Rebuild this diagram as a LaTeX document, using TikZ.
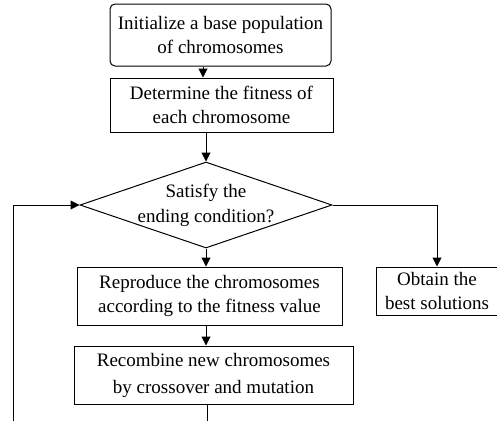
\documentclass[tikz,border=0pt]{standalone}
\usepackage{fontspec}
\setmainfont{Liberation Serif}
\usetikzlibrary{shapes.geometric,arrows.meta}
\begin{document}
\begin{tikzpicture}[x=1pt,y=-1pt,
  txt/.style={font=\fontsize{19}{24}\selectfont},
  box/.style={draw, line width=1pt, rectangle, inner sep=0pt, align=center, txt},
  arr/.style={line width=1pt, -{Triangle[length=9pt,width=9pt]}},
  ln/.style={line width=1pt}]
\useasboundingbox (0,0) rectangle (497,421);
\node[box, rounded corners=5pt, minimum width=221pt, minimum height=62pt] (init) at (220.5,35) {Initialize a base population\\of chromosomes};
\node[box, minimum width=223pt, minimum height=54pt] (fit) at (221.5,105) {Determine the fitness of\\each chromosome};
\node[draw, line width=1pt, diamond, inner sep=0pt, shape aspect=2.93, minimum width=252pt, minimum height=86pt] (cond) at (206,205) {};
\node[align=center, font=\fontsize{19}{25}\selectfont] (condt) at (cond) {Satisfy the\\ending condition?};
\node[box, minimum width=265pt, minimum height=58pt] (repr) at (209.5,296) {Reproduce the chromosomes\\according to the fitness value};
\node[box, minimum width=279pt, minimum height=58pt, font=\fontsize{19}{27}\selectfont] (recomb) at (213.5,375) {Recombine new chromosomes\\by crossover and mutation};
\node[box, minimum width=122pt, minimum height=48pt] (best) at (437,291) {Obtain the\\best solutions};
\coordinate (bot) at (207,421);
\coordinate (botl) at (13,421);
\coordinate (lcorner) at (13,205);
\draw[arr] (init.south -| 203,0) -- (fit.north -| 203,0);
\draw[arr] (fit.south -| 206,0) -- (cond.north);
\draw[arr] (cond.south) -- (repr.north -| cond.south);
\draw[arr] (repr.south -| cond.south) -- (recomb.north -| cond.south);
\draw[arr] (cond.east) -| (best.north -| 437,0);
\draw[ln] (recomb.south -| bot) -- (bot);
\draw[arr] (botl) -- (lcorner) -- (cond.west);
\end{tikzpicture}
\end{document}
